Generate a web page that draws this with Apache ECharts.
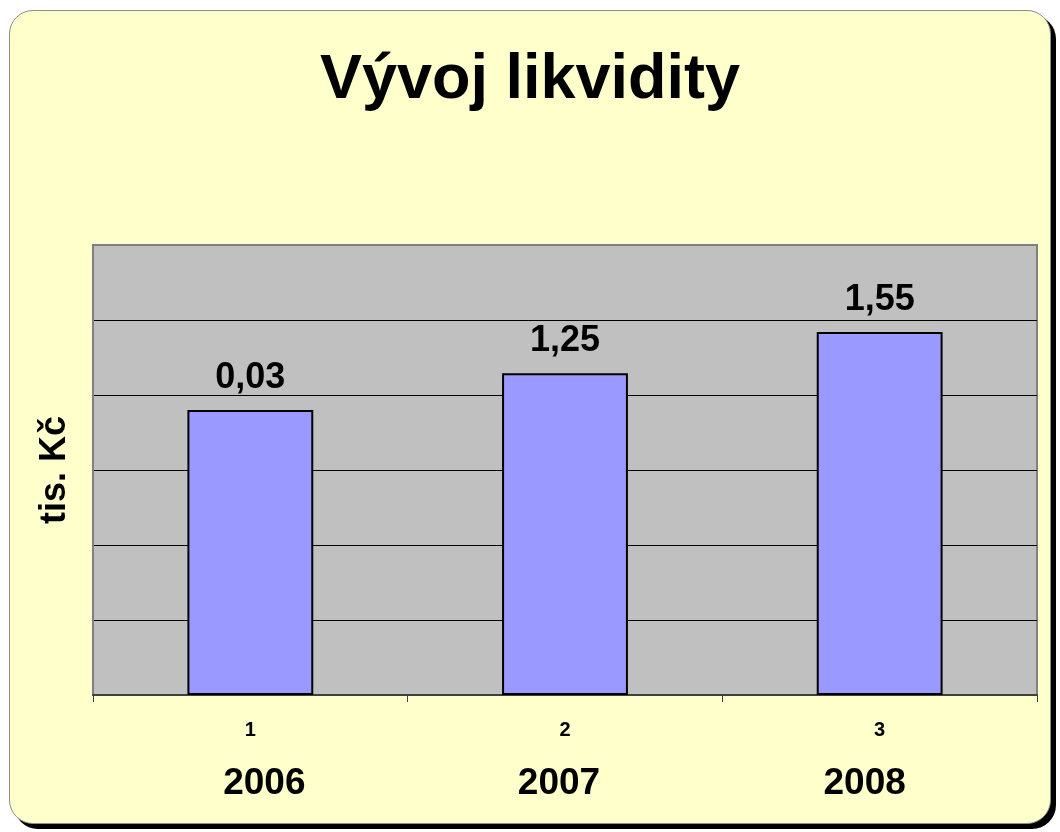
<!DOCTYPE html>
<html>
<head>
<meta charset="utf-8">
<script src="https://cdn.jsdelivr.net/npm/echarts@6/dist/echarts.min.js"></script>
<style>
  html, body { margin: 0; padding: 0; background: #ffffff; }
  #card { position: absolute; left: 9px; top: 10px; width: 1040px; height: 812px;
          background: #FFFFCC; border: 1px solid #8c8c8c; border-radius: 24px;
          box-shadow: 5px 5px 0 #000; }
  #chart { position: absolute; left: 0; top: 0; width: 1060px; height: 832px; }
</style>
</head>
<body>
<div id="card"></div>
<div id="chart"></div>
<script>
const categories = ['1', '2', '3'];
const years = ['2006', '2007', '2008'];
const barValues = [3.8, 4.29, 4.84];
const barLabels = ['0,03', '1,25', '1,55'];
const titleText = 'Vývoj likvidity';
const yAxisName = 'tis. Kč';

const FONT = '"Liberation Sans", Arial, sans-serif';
const yearStyle = { fontFamily: FONT, fontSize: 37, fontWeight: 'bold', color: '#000' };
const chart = echarts.init(document.getElementById('chart'), null, { renderer: 'canvas' });
chart.setOption({
  backgroundColor: 'transparent',
  animation: false,
  title: {
    text: titleText, left: 'center', top: 44,
    textStyle: { fontFamily: FONT, fontSize: 63, fontWeight: 'bold', color: '#000' }
  },
  grid: {
    left: 93, top: 245, width: 944, height: 450,
    show: true, backgroundColor: '#C0C0C0', borderColor: '#808080', borderWidth: 2
  },
  xAxis: [{
    type: 'category', data: categories, position: 'bottom',
    axisLine: { show: true, lineStyle: { color: '#404040', width: 2 } },
    axisTick: { show: true, length: 7, lineStyle: { color: '#404040', width: 1 } },
    axisLabel: { fontFamily: FONT, fontSize: 20, fontWeight: 'bold', color: '#000', margin: 25 }
  }, {
    type: 'category', data: years, position: 'bottom', offset: 70,
    axisLine: { show: false }, axisTick: { show: false },
    axisLabel: {
      margin: 0,
      formatter: (v, i) => '{y' + i + '|' + v + '}',
      rich: {
        y0: Object.assign({ padding: [0, 0, 0, 28] }, yearStyle),
        y1: Object.assign({ padding: [0, 12, 0, 0] }, yearStyle),
        y2: Object.assign({ padding: [0, 30, 0, 0] }, yearStyle)
      }
    }
  }],
  yAxis: {
    type: 'value', min: 0, max: 6, interval: 1,
    name: yAxisName, nameLocation: 'middle', nameGap: 20, nameRotate: 90,
    nameTextStyle: { fontFamily: FONT, fontSize: 36, fontWeight: 'bold', color: '#000' },
    axisLabel: { show: false },
    axisTick: { show: false },
    axisLine: { show: true, lineStyle: { color: '#808080', width: 2 } },
    splitLine: { show: true, showMinLine: false, showMaxLine: false, lineStyle: { color: '#000', width: 1 } }
  },
  series: [{
    type: 'bar', xAxisIndex: 0, data: barValues, barWidth: '40%',
    itemStyle: { color: '#9999FF', borderColor: '#000', borderWidth: 2 },
    label: {
      show: true, position: 'top', distance: 14,
      fontFamily: FONT, fontSize: 36, fontWeight: 'bold', color: '#000',
      formatter: p => barLabels[p.dataIndex]
    }
  }]
});
</script>
</body>
</html>
